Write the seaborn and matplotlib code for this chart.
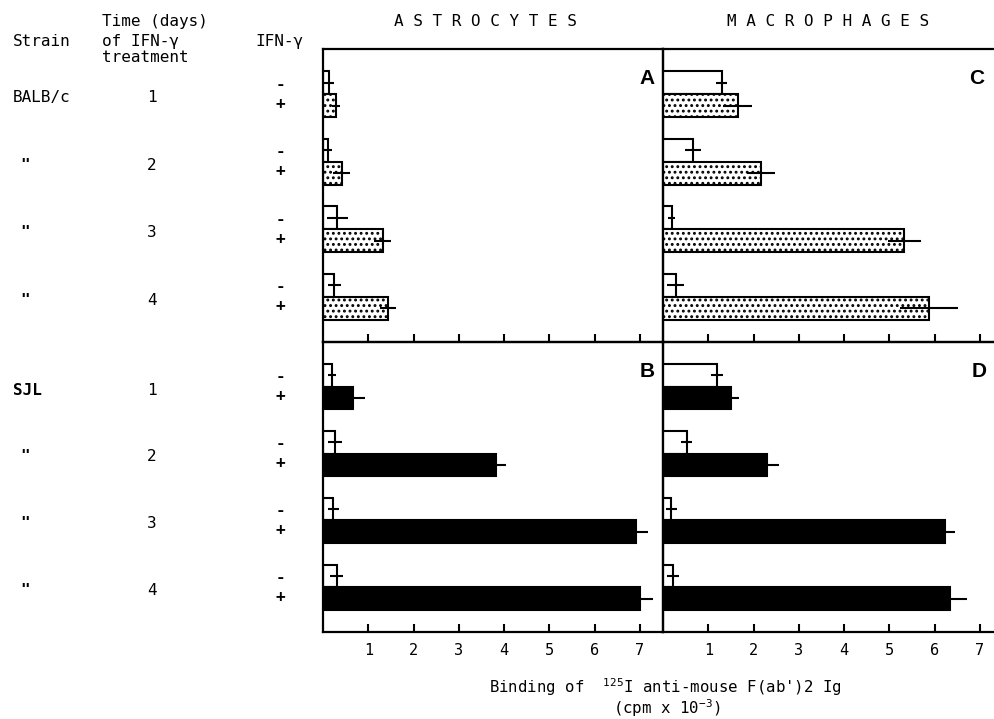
import numpy as np
import pandas as pd
import matplotlib
matplotlib.use('Agg')
import matplotlib.pyplot as plt
import matplotlib.transforms as mtransforms
import seaborn as sns

# values (cpm x 10^-3)
days = ['1', '2', '3', '4']
ifn_levels = ['-', '+']

astro_balb_minus = [0.13, 0.10, 0.32, 0.25]
astro_balb_plus = [0.28, 0.41, 1.32, 1.43]
astro_balb_minus_err = [0.12, 0.10, 0.23, 0.14]
astro_balb_plus_err = [0.09, 0.19, 0.19, 0.18]

macro_balb_minus = [1.30, 0.66, 0.19, 0.28]
macro_balb_plus = [1.65, 2.16, 5.33, 5.88]
macro_balb_minus_err = [0.12, 0.17, 0.08, 0.19]
macro_balb_plus_err = [0.32, 0.31, 0.37, 0.64]

astro_sjl_minus = [0.19, 0.26, 0.23, 0.30]
astro_sjl_plus = [0.66, 3.83, 6.92, 7.00]
astro_sjl_minus_err = [0.09, 0.15, 0.13, 0.15]
astro_sjl_plus_err = [0.26, 0.22, 0.27, 0.28]

macro_sjl_minus = [1.20, 0.52, 0.18, 0.22]
macro_sjl_plus = [1.51, 2.30, 6.22, 6.33]
macro_sjl_minus_err = [0.13, 0.13, 0.12, 0.14]
macro_sjl_plus_err = [0.16, 0.27, 0.22, 0.38]

xticks = [1, 2, 3, 4, 5, 6, 7]

sns.set_style('white')
mono = 'DejaVu Sans Mono'
plt.rcParams['font.family'] = [mono, 'DejaVu Sans']
plt.rcParams['mathtext.fontset'] = 'custom'
plt.rcParams['mathtext.rm'] = mono
plt.rcParams['mathtext.it'] = mono
plt.rcParams['mathtext.bf'] = mono + ':bold'
plt.rcParams['hatch.linewidth'] = 1.3
plt.rcParams['text.color'] = 'black'
plt.rcParams['xtick.color'] = 'black'
plt.rcParams['xtick.labelcolor'] = 'black'

W, H = 994, 719
fig = plt.figure(figsize=(W / 100, H / 100), dpi=100)


def box(x0, y0, x1, y1):
    # pixel box -> figure fraction [left, bottom, width, height]
    return [x0 / W, 1 - y1 / H, (x1 - x0) / W, (y1 - y0) / H]


axA = fig.add_axes(box(323, 49, 662.5, 342))
axB = fig.add_axes(box(323, 342, 662.5, 632))
axC = fig.add_axes(box(663, 49, 1002.5, 342))
axD = fig.add_axes(box(663, 342, 1002.5, 632))


def panel(ax, minus, plus, minus_err, plus_err, dotted, letter, show_labels):
    df = pd.DataFrame({
        'day': days * 2,
        'ifn': ['-'] * 4 + ['+'] * 4,
        'value': minus + plus,
    })
    fill = 'white' if dotted else 'black'
    sns.barplot(data=df, y='day', x='value', hue='ifn', order=days,
                hue_order=ifn_levels, palette={'-': 'white', '+': fill},
                edgecolor='black', linewidth=1.5, width=0.68,
                errorbar=None, legend=False, ax=ax, orient='h', saturation=1)
    if dotted:
        for bar in ax.containers[1]:
            bar.set_hatch('...')
    for cont, err in zip(ax.containers, [minus_err, plus_err]):
        xs = [b.get_width() for b in cont]
        ys = [b.get_y() + b.get_height() / 2 for b in cont]
        ax.errorbar(xs, ys, xerr=err, fmt='none', ecolor='black',
                    elinewidth=1.5, capsize=0, zorder=5)
    ax.set_xlim(0, 7.5)
    ax.set_ylim(3.67, -0.67)
    ax.set_xlabel('')
    ax.set_ylabel('')
    ax.set_yticks([])
    ax.set_xticks(xticks)
    ax.tick_params(axis='x', bottom=True, direction='in', length=6,
                   width=1.5, pad=8, labelsize=11, labelbottom=show_labels)
    for s in ax.spines.values():
        s.set_linewidth(1.6)
        s.set_color('black')
    ax.text(0.955, 0.9, letter, transform=ax.transAxes, ha='center',
            va='center', fontsize=15, fontweight='bold',
            family='Liberation Sans', color='black')
    ax.set_facecolor('none')


panel(axA, astro_balb_minus, astro_balb_plus, astro_balb_minus_err,
      astro_balb_plus_err, True, 'A', False)
panel(axC, macro_balb_minus, macro_balb_plus, macro_balb_minus_err,
      macro_balb_plus_err, True, 'C', False)
panel(axB, astro_sjl_minus, astro_sjl_plus, astro_sjl_minus_err,
      astro_sjl_plus_err, False, 'B', True)
panel(axD, macro_sjl_minus, macro_sjl_plus, macro_sjl_minus_err,
      macro_sjl_plus_err, False, 'D', True)
axC.texts[0].set_position((0.925, 0.9))
axD.texts[0].set_position((0.93, 0.9))

# left-hand table
fs = 11.5
fig.text(13 / W, 1 - 42 / H, 'Strain', fontsize=fs, va='center')
fig.text(102 / W, 1 - 21.5 / H, 'Time (days)', fontsize=fs, va='center')
fig.text(102 / W, 1 - 41.5 / H, 'of IFN-γ', fontsize=fs, va='center')
fig.text(102 / W, 1 - 58 / H, 'treatment', fontsize=fs, va='center')
fig.text(255 / W, 1 - 41.5 / H, 'IFN-γ', fontsize=fs, va='center')

for ax, strain in [(axA, 'BALB/c'), (axB, 'SJL')]:
    tr = mtransforms.blended_transform_factory(fig.transFigure, ax.transData)
    for i, d in enumerate(days):
        if i == 0:
            fig.text(13 / W, i + 0.05, strain, fontsize=fs, va='center',
                     transform=tr, fontweight='bold' if strain == 'SJL' else 'normal')
        else:
            fig.text(25 / W, i + 0.05, '"', fontsize=fs, va='center',
                     ha='center', transform=tr, fontweight='bold')
        fig.text(152 / W, i + 0.05, d, fontsize=fs, va='center',
                 ha='center', transform=tr)
        fig.text(280 / W, i - 0.15, '-', fontsize=fs, va='center',
                 ha='center', transform=tr, fontweight='bold')
        fig.text(280 / W, i + 0.15, '+', fontsize=fs, va='center',
                 ha='center', transform=tr, fontweight='bold')

# column headers
fig.text(485 / W, 1 - 22 / H, 'A S T R O C Y T E S', fontsize=fs,
         ha='center', va='center')
fig.text(828 / W, 1 - 22 / H, 'M A C R O P H A G E S', fontsize=fs,
         ha='center', va='center')

# shared x label
fig.text(665 / W, 1 - 687 / H, "Binding of  $^{125}$I anti-mouse F(ab')2 Ig",
         fontsize=11.3, ha='center', va='center')
fig.text(667 / W, 1 - 708 / H, '(cpm x 10$^{-3}$)', fontsize=11.3,
         ha='center', va='center')

plt.savefig('out.png', dpi=100)
